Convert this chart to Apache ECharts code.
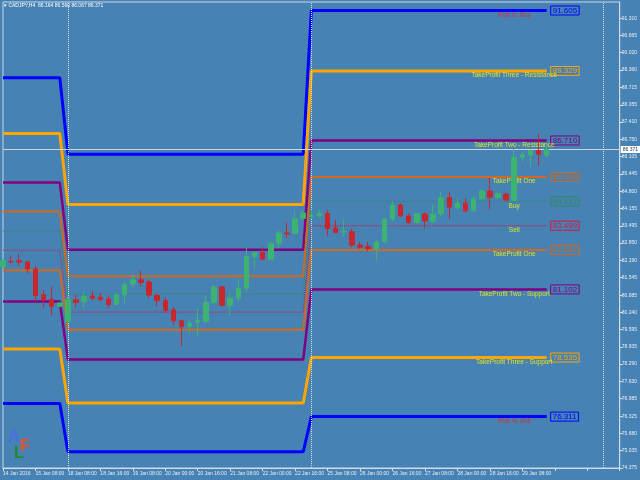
<!DOCTYPE html>
<html>
<head>
<meta charset="utf-8">
<script src="https://cdn.jsdelivr.net/npm/echarts@6/dist/echarts.min.js"></script>
<style>
html, body { margin: 0; padding: 0; background: #4682B4; }
#grafico { width: 640px; height: 480px; }
</style>
</head>
<body>
<div id="grafico"></div>
<script>
var symbolName = 'CADJPY,H4';

// time axis labels, one every 4 bars (H4)
var tickLabels = ['14 Jan 2016', '15 Jan 08:00', '18 Jan 08:00', '18 Jan 16:00', '19 Jan 08:00',
  '20 Jan 00:00', '20 Jan 16:00', '21 Jan 08:00', '22 Jan 00:00', '22 Jan 16:00', '25 Jan 08:00',
  '26 Jan 00:00', '26 Jan 16:00', '27 Jan 08:00', '28 Jan 00:00', '28 Jan 16:00', '29 Jan 08:00'];

// price scale labels
var priceTicks = ['91.310', '90.665', '90.020', '89.360', '88.715', '88.055', '87.410', '86.750',
  '86.105', '85.445', '84.800', '84.155', '83.495', '82.850', '82.190', '81.545', '80.885',
  '80.240', '79.595', '78.935', '78.290', '77.630', '76.985', '76.325', '75.680', '75.035', '74.375'];

// candles: [open, close, low, high]
var candles = [
  [81.96, 82.19, 81.90, 82.25], [82.16, 82.14, 82.08, 82.37], [82.18, 82.13, 81.99, 82.44],
  [82.14, 81.87, 81.71, 82.17], [81.87, 80.87, 80.65, 81.99], [80.90, 80.71, 80.41, 81.06],
  [80.73, 80.46, 80.13, 81.21], [80.46, 80.59, 80.43, 80.62], [79.89, 80.73, 79.85, 80.78],
  [80.71, 80.61, 80.43, 80.89], [80.65, 80.83, 80.38, 81.01], [80.85, 80.77, 80.68, 81.04],
  [80.81, 80.72, 80.67, 80.97], [80.74, 80.53, 80.41, 80.87], [80.53, 80.90, 80.51, 80.94],
  [80.90, 81.27, 80.59, 81.38], [81.30, 81.46, 81.21, 81.65], [81.46, 81.36, 81.21, 81.80],
  [81.38, 80.89, 80.76, 81.46], [80.87, 80.68, 80.46, 80.96], [80.68, 80.31, 80.21, 80.80],
  [80.33, 79.92, 79.77, 80.43], [79.92, 79.70, 78.95, 79.96], [79.71, 79.83, 79.43, 79.96],
  [79.86, 79.92, 79.33, 80.40], [79.89, 80.61, 79.83, 80.87], [80.61, 81.19, 80.56, 81.27],
  [81.19, 80.50, 80.46, 81.24], [80.50, 80.77, 80.13, 80.98], [80.77, 81.15, 80.65, 81.49],
  [81.15, 82.33, 81.02, 82.66], [82.34, 82.49, 81.86, 82.53], [82.49, 82.24, 82.21, 82.69],
  [82.24, 82.84, 82.21, 82.90], [82.84, 83.22, 82.66, 83.34], [83.23, 83.19, 83.03, 83.62],
  [83.22, 83.76, 83.16, 84.03], [83.78, 83.97, 83.72, 84.10], [83.86, 83.88, 83.75, 84.05],
  [83.87, 83.96, 83.82, 84.10], [83.96, 83.39, 83.12, 84.10], [83.41, 83.24, 83.22, 83.72],
  [83.26, 83.29, 83.09, 83.72], [83.27, 82.77, 82.69, 83.39], [82.77, 82.69, 82.63, 82.90],
  [82.72, 82.63, 82.53, 82.90], [82.63, 82.89, 82.21, 82.97], [82.89, 83.75, 82.86, 83.78],
  [83.75, 84.28, 83.66, 84.41], [84.28, 83.87, 83.84, 84.35], [83.87, 83.62, 83.57, 83.97],
  [83.62, 83.95, 83.57, 84.00], [83.94, 83.68, 83.41, 84.00], [83.66, 83.94, 83.60, 84.29],
  [83.94, 84.56, 83.84, 84.79], [84.56, 84.20, 83.75, 84.79], [84.18, 84.35, 84.10, 84.54],
  [84.35, 84.06, 84.00, 84.54], [84.06, 84.51, 84.03, 84.60], [84.51, 84.81, 84.47, 84.85],
  [84.81, 84.56, 84.10, 85.29], [84.56, 84.70, 84.51, 84.75], [84.69, 84.47, 84.41, 84.75],
  [84.45, 86.08, 84.43, 86.38], [86.08, 86.17, 85.91, 86.29], [86.16, 86.33, 85.73, 86.36],
  [86.33, 86.19, 85.75, 86.96], [86.164, 86.371, 86.067, 86.560]
];

var lastPrice = 86.371;
var totalBars = 77;           // bars incl. empty space on the right
var weekStarts = [8, 38, 74]; // period separators
var periodStarts = [0, 8, 38];
var labelBar = 63;

var levelNames = ['Risk to Buy', 'TakeProfit Three - Resistance', 'TakeProfit Two - Resistance',
  'TakeProfit One', 'Buy', 'Sell', 'TakeProfit One', 'TakeProfit Two - Support',
  'TakeProfit Three - Support', 'Risk to Sell'];
var levelsWeek1 = [89.076, 86.968, 85.124, 84.032, 83.295, 82.580, 81.827, 80.645, 78.854, 76.806];
var levelsWeek2 = [86.193, 84.303, 82.591, 81.601, 80.924, 80.246, 79.580, 78.462, 76.825, 74.988];
var levelsWeek3 = [91.605, 89.329, 86.710, 85.334, 84.417, 83.499, 82.582, 81.102, 78.535, 76.311];

var levelStyles = [
  { color: '#0000FF', width: 3, type: 'solid', text: '#E8201C' },
  { color: '#FFA500', width: 3, type: 'solid', text: '#FFFF00' },
  { color: '#800080', width: 2.5, type: 'solid', text: '#FFFF00' },
  { color: '#D2691E', width: 2, type: 'solid', text: '#FFFF00' },
  { color: '#2E8B57', width: 1, type: 'dotted', text: '#FFFF00' },
  { color: '#DC143C', width: 1, type: 'dotted', text: '#FFFF00' },
  { color: '#D2691E', width: 2, type: 'solid', text: '#FFFF00' },
  { color: '#800080', width: 2.5, type: 'solid', text: '#FFFF00' },
  { color: '#FFA500', width: 3, type: 'solid', text: '#FFFF00' },
  { color: '#0000FF', width: 3, type: 'solid', text: '#E8201C' }
];

var chartDom = document.getElementById('grafico');
var myChart = echarts.init(chartDom);
var option;

var categories = [];
for (var i = 0; i < totalBars; i++) categories.push(String(i));

var periods = [levelsWeek1, levelsWeek2, levelsWeek3];
var lastBar = candles.length - 1;
var levelSeries = [];
var annotations = [];
levelNames.forEach(function (name, k) {
  var data = [];
  for (var b = 0; b <= lastBar; b++) {
    var p = b >= periodStarts[2] ? 2 : (b >= periodStarts[1] ? 1 : 0);
    data.push(periods[p][k]);
  }
  var st = levelStyles[k];
  levelSeries.push({
    name: name,
    type: 'line',
    data: data,
    z: 2,
    symbol: 'none',
    silent: true,
    lineStyle: { color: st.color, width: st.width, type: st.type },
    endLabel: {
      show: true,
      distance: 4,
      formatter: function (prm) { return prm.value.toFixed(3); },
      color: st.color,
      borderColor: st.color,
      borderWidth: 1,
      padding: [1, 2, 0, 2],
      fontSize: 8,
      fontFamily: 'Liberation Sans'
    }
  });
  annotations.push({
    value: [labelBar, levelsWeek3[k]],
    name: name,
    label: { color: st.text }
  });
});

var last = candles[lastBar];
var axisText = '#E8EEF4';

option = {
  backgroundColor: '#4682B4',
  animation: false,
  title: {
    text: '\u25BE ' + symbolName + '  ' + last[0].toFixed(3) + ' ' + last[3].toFixed(3) + ' ' +
      last[2].toFixed(3) + ' ' + last[1].toFixed(3),
    left: 4,
    top: 3,
    padding: 0,
    textStyle: { color: '#FFFFFF', fontSize: 5, fontWeight: 'normal', fontFamily: 'Liberation Sans' }
  },
  grid: {
    left: 2, top: 2, right: 20, bottom: 12,
    show: true, borderColor: '#C8D6E4', borderWidth: 1
  },
  xAxis: {
    type: 'category',
    data: categories,
    boundaryGap: false,
    axisLine: { lineStyle: { color: '#D0DCE8' } },
    axisTick: { interval: 3, length: 3, lineStyle: { color: '#D0DCE8' } },
    axisLabel: {
      interval: 3,
      align: 'left',
      margin: 3,
      fontSize: 5,
      color: axisText,
      fontFamily: 'Liberation Sans',
      formatter: function (v, idx) { return tickLabels[idx / 4] || ''; }
    },
    splitLine: { show: false }
  },
  yAxis: {
    type: 'value',
    position: 'right',
    min: 74.375,
    max: 91.925,
    axisLine: { show: true, lineStyle: { color: '#D0DCE8' } },
    axisTick: { show: true, length: 3, customValues: priceTicks.map(Number), lineStyle: { color: '#D0DCE8' } },
    axisLabel: {
      customValues: priceTicks.map(Number),
      formatter: function (v) { return v.toFixed(3); },
      margin: 2,
      fontSize: 5,
      color: axisText,
      fontFamily: 'Liberation Sans'
    },
    splitLine: { show: false }
  },
  graphic: [
    { type: 'text', left: 8, top: 430, style: { text: 'A', fill: '#4A6FE3', font: 'bold 16px "Liberation Sans"' } },
    { type: 'text', left: 20, top: 439, style: { text: 'F', fill: '#FF4A1C', font: 'bold 16px "Liberation Sans"' } },
    { type: 'text', left: 14, top: 446, style: { text: 'L', fill: '#1E8C2A', font: 'bold 16px "Liberation Sans"' } }
  ],
  series: levelSeries.concat([
    {
      name: 'labels',
      type: 'scatter',
      z: 3,
      silent: true,
      symbolSize: 0,
      data: annotations,
      label: {
        show: true,
        position: 'bottom',
        distance: 1,
        formatter: '{b}',
        fontSize: 6.5,
        fontFamily: 'Liberation Sans'
      }
    },
    {
      name: symbolName,
      type: 'candlestick',
      z: 5,
      barWidth: 5,
      data: candles,
      itemStyle: {
        color: '#3CB371', color0: '#C8282D',
        borderColor: '#3CB371', borderColor0: '#C8282D', borderWidth: 1
      },
      markLine: {
        silent: true,
        symbol: 'none',
        animation: false,
        data: [
          {
            yAxis: lastPrice,
            lineStyle: { color: '#C8D4E0', width: 1, type: 'solid' },
            label: {
              show: true, position: 'end', distance: 1,
              formatter: lastPrice.toFixed(3),
              backgroundColor: '#FFFFFF', color: '#2A3A4A',
              fontSize: 5, padding: [1, 2], fontFamily: 'Liberation Sans'
            }
          }
        ].concat(weekStarts.map(function (b) {
          return { xAxis: b, lineStyle: { color: '#D8E0E8', width: 1, type: 'dotted' }, label: { show: false } };
        }))
      }
    }
  ])
};

option && myChart.setOption(option);
</script>
</body>
</html>
